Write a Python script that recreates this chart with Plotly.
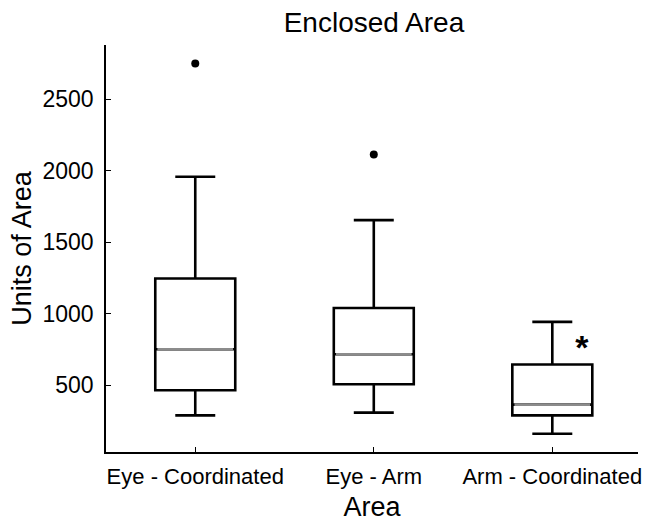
import plotly.graph_objects as go

categories = ["Eye - Coordinated", "Eye - Arm", "Arm - Coordinated"]
q1 = [465, 507, 290]
median = [752, 717, 365]
q3 = [1246, 1040, 645]
lower = [290, 309, 162]
upper = [1957, 1654, 943]
outlier_x = [0, 1]
outlier_y = [2749, 2113]
star_x = 2
star_y = 740

font = "Arial, Liberation Sans, sans-serif"
pos = list(range(len(categories)))
bw = 0.448

fig = go.Figure()
fig.add_trace(go.Box(
    x=pos, q1=q1, median=median, q3=q3, lowerfence=lower, upperfence=upper,
    width=bw, whiskerwidth=0.5, boxpoints=False,
    line=dict(color="black", width=2.6), fillcolor="white",
    showlegend=False, hoverinfo="skip"))
for i in pos:
    fig.add_trace(go.Scatter(
        x=[i - bw / 2 + 0.012, i + bw / 2 - 0.012], y=[median[i], median[i]],
        mode="lines", line=dict(color="#8c8c8c", width=2.7),
        showlegend=False, hoverinfo="skip"))
fig.add_trace(go.Scatter(
    x=outlier_x, y=outlier_y, mode="markers",
    marker=dict(color="black", size=8), showlegend=False))
fig.add_trace(go.Scatter(
    x=[star_x + 0.165], y=[star_y], mode="text", text=["<b>*</b>"],
    textfont=dict(family=font, size=34, color="black"), showlegend=False))

fig.update_layout(
    width=647, height=523,
    margin=dict(l=106, r=9, t=45, b=71),
    paper_bgcolor="white", plot_bgcolor="white",
    font=dict(family=font, color="black"),
    title=dict(text="Enclosed Area", x=0.578, xanchor="center",
               y=1 - 22 / 523, yanchor="middle",
               font=dict(size=28, color="black")),
    xaxis=dict(range=[-0.5, 2.48], tickvals=pos, ticktext=categories,
               showline=True, linecolor="black", linewidth=1.5,
               ticks="inside", ticklen=5, tickcolor="black",
               showgrid=False, zeroline=False, automargin=False,
               tickfont=dict(size=22), ticklabelstandoff=4,
               title=dict(text="Area", font=dict(size=27), standoff=9)),
    yaxis=dict(range=[34, 2878], tickvals=[500, 1000, 1500, 2000, 2500],
               showline=True, linecolor="black", linewidth=1.5,
               ticks="inside", ticklen=5, tickcolor="black",
               showgrid=False, zeroline=False, automargin=False,
               tickfont=dict(size=23), ticklabelstandoff=6,
               title=dict(text="Units of Area", font=dict(size=27), standoff=3)),
)
fig.write_html("out.html")
